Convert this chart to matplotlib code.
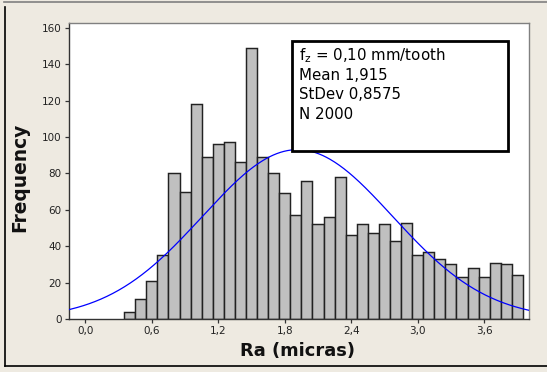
import numpy as np
import matplotlib
matplotlib.use("Agg")
import matplotlib.pyplot as plt
from matplotlib.patches import Rectangle
from matplotlib.lines import Line2D

# Data
bin_centers = [0.4, 0.5, 0.6, 0.7, 0.8, 0.9, 1.0, 1.1, 1.2, 1.3, 1.4, 1.5,
               1.6, 1.7, 1.8, 1.9, 2.0, 2.1, 2.2, 2.3, 2.4, 2.5, 2.6, 2.7,
               2.8, 2.9, 3.0, 3.1, 3.2, 3.3, 3.4, 3.5, 3.6, 3.7, 3.8, 3.9]
frequencies = [4, 11, 21, 35, 80, 70, 118, 89, 96, 97, 86, 149,
               89, 80, 69, 57, 76, 52, 56, 78, 46, 52, 47, 52,
               43, 53, 35, 37, 33, 30, 23, 28, 23, 31, 30, 24]
bin_width = 0.1
mean = 1.915
stdev = 0.8575
n_obs = 2000
x_ticks = [0.0, 0.6, 1.2, 1.8, 2.4, 3.0, 3.6]
x_tick_labels = ["0,0", "0,6", "1,2", "1,8", "2,4", "3,0", "3,6"]
y_ticks = [0, 20, 40, 60, 80, 100, 120, 140, 160]
box_lines = [r"f$_\mathregular{z}$ = 0,10 mm/tooth", "Mean 1,915", "StDev 0,8575", "N 2000"]

W, H = 547, 372
fig = plt.figure(figsize=(W / 100, H / 100), dpi=100)
fig.patch.set_facecolor("#EEEAE1")

def fx(px):
    return px / W

def fy(py):
    return 1 - py / H

ax_l, ax_r, ax_t, ax_b = 68.5, 528.5, 22.5, 319.0
ax = fig.add_axes([fx(ax_l), fy(ax_b), fx(ax_r) - fx(ax_l), fy(ax_t) - fy(ax_b)])
ax.set_facecolor("white")

ax.bar(bin_centers, frequencies, width=bin_width, color="#C0C0C0",
       edgecolor="#222222", linewidth=1.05, zorder=2)

xs = np.linspace(-0.2, 4.05, 400)
ys = n_obs * bin_width / (stdev * np.sqrt(2 * np.pi)) * np.exp(-0.5 * ((xs - mean) / stdev) ** 2)
ax.plot(xs, ys, color="#0000FF", linewidth=0.9, zorder=3)

ax.set_xlim(-0.152, 4.0)
ax.set_ylim(0, 162.9)
ax.set_xticks(x_ticks)
ax.set_xticklabels(x_tick_labels)
ax.set_yticks(y_ticks)
ax.tick_params(axis="both", direction="out", length=3, width=0.9, color="#333333",
               labelsize=7.5, labelcolor="#222222", pad=2)
for s in ["top", "right"]:
    ax.spines[s].set_color("#808080")
    ax.spines[s].set_linewidth(1.0)
for s in ["left", "bottom"]:
    ax.spines[s].set_color("#333333")
    ax.spines[s].set_linewidth(1.0)

ax.set_xlabel("Ra (micras)", fontsize=12.9, fontweight="bold", color="#111111")
ax.set_ylabel("Frequency", fontsize=13.4, fontweight="bold", color="#111111")
ax.xaxis.set_label_coords((297.5 - ax_l) / (ax_r - ax_l), (ax_b - 351) / (ax_b - ax_t))
ax.yaxis.set_label_coords((20 - ax_l) / (ax_r - ax_l), (ax_b - 177) / (ax_b - ax_t))
ax.xaxis.label.set_va("center")
ax.yaxis.label.set_va("center")

# stats box
def axx(px):
    return (px - ax_l) / (ax_r - ax_l)

def axy(py):
    return (ax_b - py) / (ax_b - ax_t)

bl, br, bt, bb = 291.7, 508.4, 40.5, 150.7
ax.add_patch(Rectangle((axx(bl), axy(bb)), axx(br) - axx(bl), axy(bt) - axy(bb),
                       transform=ax.transAxes, facecolor="white", edgecolor="black",
                       linewidth=2.0, zorder=5))
baselines = [60.0, 79.5, 99.0, 118.8]
for txt, bpy in zip(box_lines, baselines):
    ax.text(axx(298.7), axy(bpy), txt, transform=ax.transAxes, fontsize=10.8,
            va="baseline", ha="left", color="black", zorder=6)

# figure border lines
fig.add_artist(Line2D([fx(4), fx(547)], [fy(1.7), fy(1.7)], color="#808080", linewidth=1.2))
fig.add_artist(Line2D([fx(5.3), fx(5.3)], [fy(7), fy(366)], color="black", linewidth=1.2))
fig.add_artist(Line2D([fx(5.3), fx(547)], [fy(366), fy(366)], color="black", linewidth=1.2))

fig.savefig("out.png", dpi=100, facecolor=fig.get_facecolor())
